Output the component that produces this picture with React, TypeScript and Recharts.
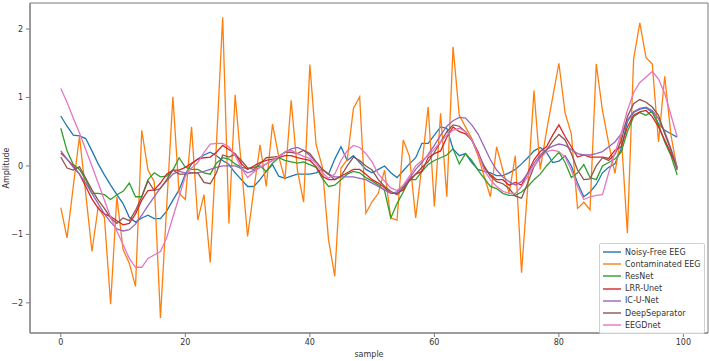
import React from "react";
import { LineChart, Line, XAxis, YAxis, Legend, ReferenceArea } from "recharts";

// matplotlib tab10 defaults, one colour per method
const COLORS = ["#1f77b4", "#ff7f0e", "#2ca02c", "#d62728", "#9467bd", "#8c564b", "#e377c2"];
const FONT = "'DejaVu Sans', sans-serif";
const SPINE = "#7a7a7a";
const TEXT = "#333";

const SERIES_NAMES = [
  "Noisy-Free EEG",
  "Contaminated EEG",
  "ResNet",
  "LRR-Unet",
  "IC-U-Net",
  "DeepSeparator",
  "EEGDnet",
];

const X_TICKS = [0, 20, 40, 60, 80, 100];
const Y_TICKS = [-2, -1, 0, 1, 2];
const X_DOMAIN = [-4.95, 103.95];
const Y_DOMAIN = [-2.44, 2.38];

const noisyFree = [
  0.73, 0.58, 0.45, 0.44, 0.4, 0.22, 0.03, -0.13, -0.28, -0.42,
  -0.55, -0.75, -0.82, -0.76, -0.72, -0.77, -0.77, -0.66, -0.5, -0.35,
  -0.12, 0.03, 0.1, 0.16, 0.2, 0.15, 0.08, 0.02, -0.1, -0.2,
  -0.3, -0.3, -0.2, -0.08, 0.02, -0.15, -0.18, -0.15, -0.12, -0.12,
  -0.12, -0.1, -0.05, -0.12, 0.1, 0.28, 0.08, 0.15, 0.05, -0.05,
  -0.1, -0.05, 0.0, -0.1, -0.17, -0.07, 0.03, 0.12, 0.33, 0.33,
  0.45, 0.57, 0.55, 0.25, 0.15, 0.18, 0.05, -0.05, -0.08, -0.1,
  -0.14, -0.14, -0.1, -0.05, 0.03, 0.12, 0.22, 0.27, 0.2, 0.05,
  0.07, 0.15, 0.0, -0.25, -0.45, -0.38, -0.27, -0.1, -0.02, 0.03,
  0.25, 0.65, 0.78, 0.83, 0.85, 0.78, 0.62, 0.52, 0.47, 0.42,
];

const contaminated = [
  -0.61, -1.05, -0.3, 0.43, -0.4, -1.25, -0.6, -0.75, -2.02, -0.45,
  -1.22, -1.42, -1.76, 0.52, -0.06, -0.23, -2.22, -0.6, 1.01, -0.4,
  -0.49, 0.57, -0.79, -0.42, -1.41, 0.33, 2.17, -0.84, 1.04, 0.0,
  -1.03, -0.35, 0.31, -0.3, 0.61, 0.14, -0.2, 0.96, -0.06, -0.53,
  1.48, 0.31, -0.01, -1.08, -1.61, -0.03, 0.09, 0.84, 1.01, -0.69,
  -0.52, -0.4, -0.06, -0.76, -0.79, 0.38, 0.14, -0.76, 0.01, 0.86,
  -0.59, 0.77, -0.45, 1.74, 0.74, 0.57, 0.4, 0.15, -0.15, -0.45,
  0.28, -0.06, -0.4, 0.15, -1.56, -0.3, 1.1, -0.05, 0.5, 1.0,
  1.5, 0.77, 0.47, -0.62, -0.53, -0.64, 1.49, 0.81, 0.33, -0.11,
  0.47, -0.98, 1.56, 2.09, 1.58, 1.49, 0.35, 1.31, 0.45, -0.05,
];

const resNet = [
  0.55, 0.22, 0.02, -0.05, -0.2, -0.4, -0.4, -0.42, -0.49, -0.42,
  -0.37, -0.25, -0.45, -0.45, -0.2, -0.1, -0.16, -0.15, -0.06, 0.12,
  -0.02, -0.05, -0.05, -0.1, -0.12, 0.04, 0.12, 0.1, 0.03, -0.02,
  -0.04, -0.02, 0.0, -0.08, 0.04, 0.12, 0.08, 0.06, 0.04, 0.06,
  0.02, -0.02, -0.18, -0.3, -0.28, -0.2, -0.12, -0.08, -0.1, -0.17,
  -0.22, -0.28, -0.36, -0.76, -0.55, -0.38, -0.2, -0.2, -0.08, 0.02,
  0.08, 0.12, 0.16, 0.25, 0.03, 0.18, 0.08, -0.06, -0.18, -0.3,
  -0.33, -0.4, -0.43, -0.43, -0.38, -0.3, -0.2, -0.12, 0.0, 0.1,
  0.2, 0.05, -0.17, -0.1, 0.02, -0.17, -0.2, 0.0, 0.05, 0.1,
  0.2, 0.5, 0.72, 0.78, 0.74, 0.8, 0.6, 0.35, 0.15, -0.13,
];

const lrrUnet = [
  0.19, 0.1, 0.0, -0.12, -0.3, -0.48, -0.62, -0.7, -0.74, -0.8,
  -0.86, -0.84, -0.7, -0.5, -0.36, -0.35, -0.25, -0.12, -0.06, -0.06,
  -0.02, 0.04, 0.1, 0.12, 0.13, 0.2, 0.3, 0.24, 0.18, 0.03,
  -0.05, 0.0, 0.05, 0.08, 0.1, 0.12, 0.15, 0.15, 0.12, 0.1,
  0.08, -0.01, -0.15, -0.2, -0.2, -0.15, -0.1, -0.05, -0.05, -0.12,
  -0.2, -0.25, -0.32, -0.4, -0.4, -0.35, -0.2, -0.12, -0.08, 0.12,
  0.18, 0.22, 0.42, 0.57, 0.5, 0.47, 0.38, 0.21, -0.03, -0.13,
  -0.2, -0.2, -0.28, -0.24, -0.28, -0.1, 0.09, 0.21, 0.28, 0.45,
  0.6, 0.43, 0.28, 0.13, 0.16, 0.13, 0.13, 0.13, 0.11, 0.23,
  0.28, 0.57, 0.74, 0.79, 0.81, 0.72, 0.57, 0.38, 0.18, -0.03,
];

const icUNet = [
  0.22, 0.1, -0.02, -0.12, -0.25, -0.4, -0.55, -0.7, -0.82, -0.92,
  -0.95, -0.93, -0.85, -0.72, -0.58, -0.45, -0.32, -0.22, -0.12, -0.08,
  -0.1, -0.1, -0.1, -0.08, -0.05, -0.02, 0.0, 0.0, 0.0, -0.04,
  -0.1, -0.07, -0.02, 0.03, 0.08, 0.13, 0.2, 0.25, 0.27, 0.23,
  0.15, 0.06, -0.05, -0.12, -0.16, -0.16, -0.16, -0.16, -0.18, -0.2,
  -0.25, -0.3, -0.35, -0.4, -0.38, -0.3, -0.18, -0.05, 0.05, 0.17,
  0.3, 0.45, 0.58, 0.66, 0.71, 0.7, 0.6, 0.47, 0.28, 0.09,
  -0.06, -0.16, -0.23, -0.28, -0.23, -0.11, 0.04, 0.16, 0.24, 0.29,
  0.32, 0.3, 0.24, 0.18, 0.16, 0.16, 0.18, 0.21, 0.28, 0.35,
  0.47, 0.67, 0.79, 0.84, 0.86, 0.81, 0.69, 0.5, 0.25, -0.02,
];

const deepSeparator = [
  0.13, -0.03, -0.06, -0.01, -0.18, -0.35, -0.5, -0.62, -0.76, -0.84,
  -0.76, -0.8, -0.65, -0.45, -0.22, -0.36, -0.33, -0.2, -0.06, -0.12,
  -0.12, -0.1, -0.1, -0.24, -0.26, -0.1, 0.16, 0.13, 0.17, 0.08,
  -0.03, -0.05, 0.03, 0.12, 0.13, 0.14, 0.2, 0.2, 0.18, 0.23,
  0.18, 0.06, -0.05, -0.12, -0.2, -0.15, 0.0, 0.13, 0.08, 0.0,
  -0.06, -0.2, -0.3, -0.37, -0.42, -0.32, -0.22, -0.12, -0.02, 0.06,
  0.2, 0.35, 0.5, 0.6, 0.58, 0.5, 0.38, 0.18, 0.0, -0.15,
  -0.23, -0.26, -0.33, -0.44, -0.47, -0.25, -0.01, 0.13, 0.23, 0.36,
  0.46, 0.38, 0.18, -0.06, -0.2, -0.19, 0.0, 0.12, 0.08, 0.17,
  0.36, 0.72, 0.91, 0.97, 0.93, 0.86, 0.74, 0.47, 0.23, -0.06,
];

const eegdNet = [
  1.13, 0.93, 0.7, 0.48, 0.24, 0.0, -0.25, -0.5, -0.75, -0.95,
  -1.15, -1.35, -1.48, -1.48, -1.35, -1.3, -1.25, -1.05, -0.75, -0.45,
  -0.15, -0.03, 0.05, 0.2, 0.32, 0.33, 0.33, 0.28, 0.15, -0.03,
  -0.17, -0.09, -0.02, 0.03, 0.08, 0.14, 0.2, 0.23, 0.18, 0.14,
  0.11, 0.04, -0.1, -0.18, -0.12, 0.08, 0.22, 0.3, 0.27, 0.18,
  0.06, -0.12, -0.22, -0.32, -0.36, -0.28, -0.15, 0.0, 0.08, 0.15,
  0.25, 0.35, 0.45, 0.52, 0.55, 0.5, 0.38, 0.18, -0.06, -0.2,
  -0.3, -0.37, -0.4, -0.4, -0.3, -0.15, 0.0, 0.11, 0.21, 0.23,
  0.21, 0.13, -0.06, -0.3, -0.49, -0.45, -0.43, -0.42, -0.1, 0.19,
  0.47, 0.81, 1.07, 1.22, 1.3, 1.38, 1.27, 1.06, 0.74, 0.43,
];

const SERIES = [noisyFree, contaminated, resNet, lrrUnet, icUNet, deepSeparator, eegdNet];

const data = noisyFree.map((_, i) => {
  const row: Record<string, number> = { x: i };
  SERIES.forEach((s, k) => {
    row[SERIES_NAMES[k]] = s[i];
  });
  return row;
});

const fmt = (v: number) => String(v).replace("-", "\u2212");

function XLabel({ viewBox }: any) {
  const { x, y, width, height } = viewBox;
  return (
    <text x={x + width / 2} y={y + height - 4} textAnchor="middle" fontSize={8} fill={TEXT} fontFamily={FONT}>
      sample
    </text>
  );
}

function YLabel({ viewBox }: any) {
  const { x, y, height } = viewBox;
  const cx = x + 6;
  const cy = y + height / 2;
  return (
    <text
      x={cx}
      y={cy}
      transform={`rotate(-90, ${cx}, ${cy})`}
      textAnchor="middle"
      dominantBaseline="central"
      fontSize={8}
      fill={TEXT}
      fontFamily={FONT}
    >
      Amplitude
    </text>
  );
}

// keep the plotting order (matplotlib legend order), not alphabetical
function LegendBox({ payload }: any) {
  const items = [...(payload || [])].sort(
    (a: any, b: any) => SERIES_NAMES.indexOf(a.value) - SERIES_NAMES.indexOf(b.value)
  );
  return (
    <div
      style={{
        border: "1px solid #d0d0d0",
        borderRadius: 2,
        background: "rgba(255,255,255,0.85)",
        padding: "2px 3px 2px 3px",
        fontFamily: FONT,
        fontSize: 8,
        color: TEXT,
      }}
    >
      {items.map((p: any) => (
        <div key={p.value} style={{ display: "flex", alignItems: "center", height: 12.2 }}>
          <svg width={18} height={4} style={{ marginRight: 4 }}>
            <line x1={0} y1={2} x2={18} y2={2} stroke={p.color} strokeWidth={1.4} />
          </svg>
          <span style={{ whiteSpace: "nowrap" }}>{p.value}</span>
        </div>
      ))}
    </div>
  );
}

export default function App() {
  const tick = { fontSize: 8, fill: TEXT, fontFamily: FONT };
  return (
    <div style={{ position: "absolute", left: 0, top: 0, width: 709, height: 361, background: "#fff" }}>
      <LineChart width={709} height={361} data={data} margin={{ top: 3, right: 1, left: 0, bottom: 0 }}>
        <XAxis
          dataKey="x"
          type="number"
          domain={X_DOMAIN}
          ticks={X_TICKS}
          tick={tick}
          tickSize={4}
          tickMargin={2}
          height={28}
          stroke={SPINE}
          label={<XLabel />}
        />
        <YAxis
          type="number"
          domain={Y_DOMAIN}
          ticks={Y_TICKS}
          tickFormatter={fmt}
          tick={tick}
          tickSize={4}
          tickMargin={3}
          width={30}
          stroke={SPINE}
          label={<YLabel />}
        />
        {/* axes frame (all four spines) */}
        <ReferenceArea
          x1={X_DOMAIN[0]}
          x2={X_DOMAIN[1]}
          y1={Y_DOMAIN[0]}
          y2={Y_DOMAIN[1]}
          fill="none"
          stroke={SPINE}
          strokeWidth={1}
          ifOverflow="visible"
        />
        <Legend
          layout="vertical"
          align="center"
          verticalAlign="middle"
          content={<LegendBox />}
          wrapperStyle={{ left: 599, top: 243, width: "auto", height: "auto" }}
        />
        {SERIES_NAMES.map((name, k) => (
          <Line
            key={name}
            type="linear"
            dataKey={name}
            name={name}
            stroke={COLORS[k]}
            strokeWidth={1.3}
            dot={false}
            activeDot={false}
            isAnimationActive={false}
          />
        ))}
      </LineChart>
    </div>
  );
}
